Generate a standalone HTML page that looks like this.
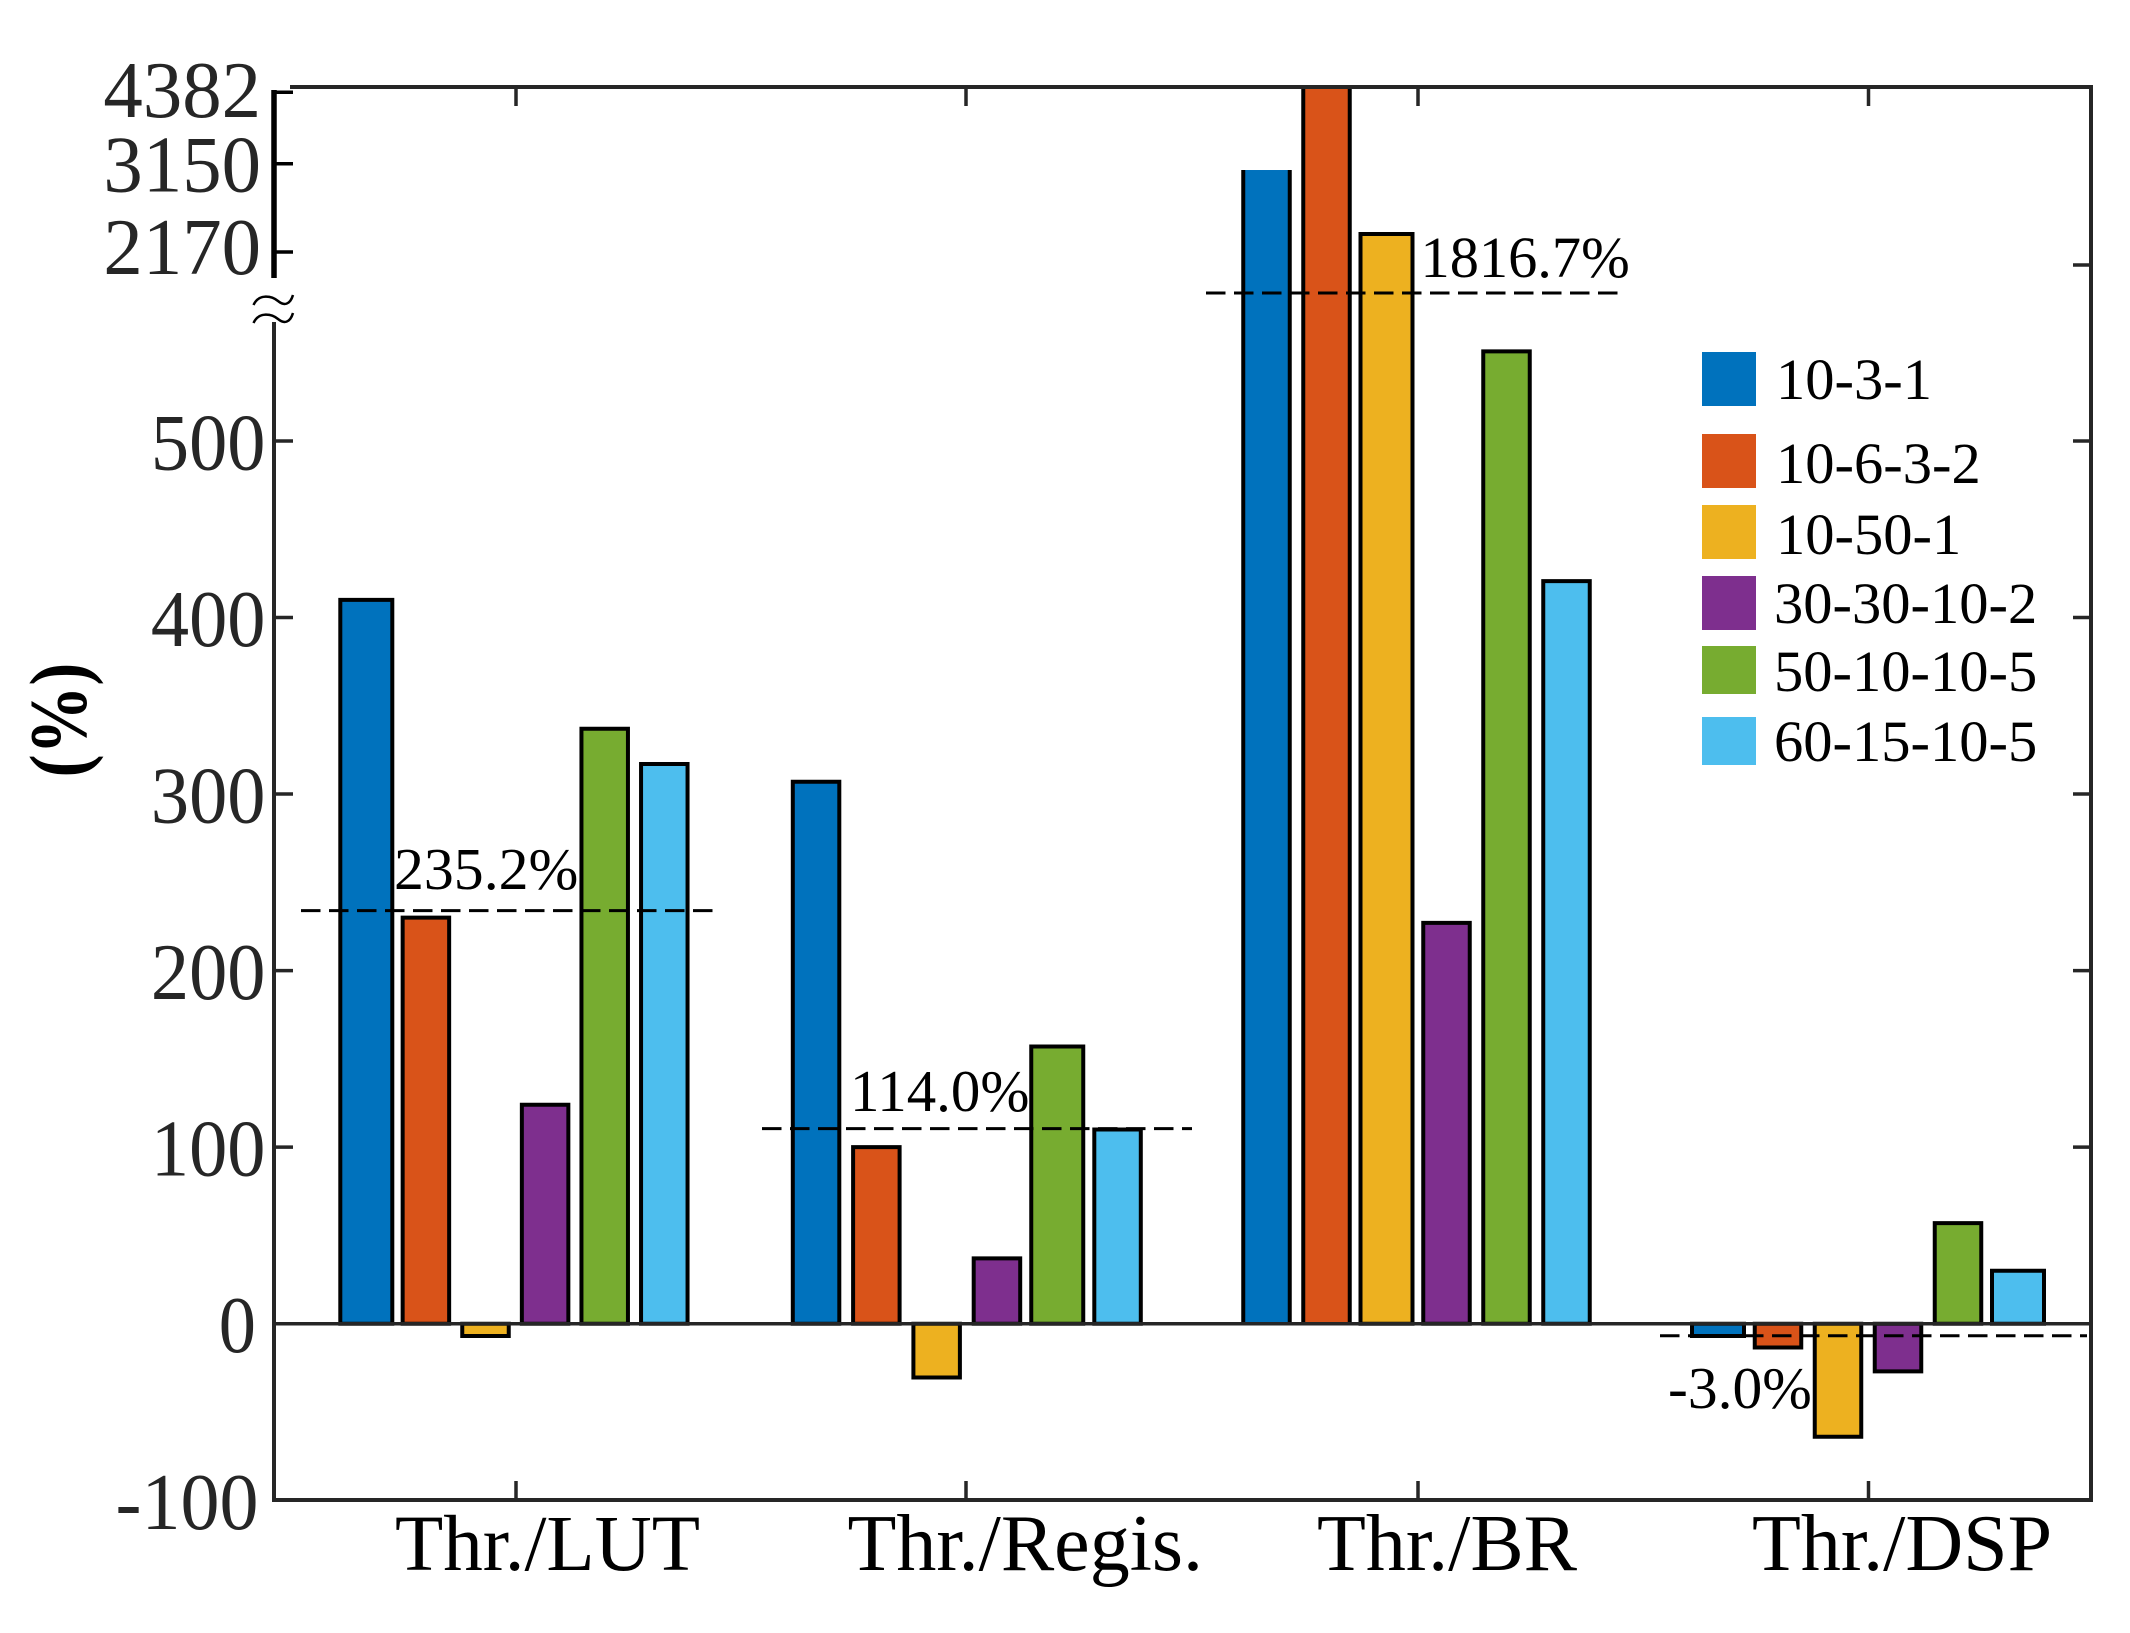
<!DOCTYPE html>
<html lang="en">
<head>
<meta charset="utf-8">
<title>Throughput ratio bar chart</title>
<style>
html,body{margin:0;padding:0;background:#fff;}
svg{display:block;}
text{font-family:"Liberation Serif",serif;}
</style>
</head>
<body>
<svg id="chart" xmlns="http://www.w3.org/2000/svg" width="2130" height="1633" viewBox="0 0 2130 1633">
  <rect x="0" y="0" width="2130" height="1633" fill="#fff"/>
  <defs><clipPath id="plot-clip"><rect x="274" y="87" width="1817" height="1413"/></clipPath></defs>
  <g id="bars" clip-path="url(#plot-clip)"></g>
  <g id="averages"></g>
  <g id="axes"></g>

  <g font-size="58.5" fill="#000">
    <rect x="1702" y="352" width="54" height="54" fill="#0072BD"/>
    <text x="1776" y="399">10-3-1</text>
    <rect x="1702" y="434" width="54" height="54" fill="#D95319"/>
    <text x="1776" y="483">10-6-3-2</text>
    <rect x="1702" y="505" width="54" height="54" fill="#EDB120"/>
    <text x="1776" y="554">10-50-1</text>
    <rect x="1702" y="576" width="54" height="54" fill="#7E2F8E"/>
    <text x="1774" y="623">30-30-10-2</text>
    <rect x="1702" y="646" width="54" height="48" fill="#77AC30"/>
    <text x="1774" y="691">50-10-10-5</text>
    <rect x="1702" y="717" width="54" height="48" fill="#4DBEEE"/>
    <text x="1774" y="761">60-15-10-5</text>
  </g>

  <text transform="translate(86,720) rotate(-90) scale(0.84,1)" text-anchor="middle" font-size="82" font-weight="bold" fill="#000">(%)</text>
</svg>

<script>
// ---- Data ----
const categories = ["Thr./LUT", "Thr./Regis.", "Thr./BR", "Thr./DSP"];
const seriesNames = ["10-3-1", "10-6-3-2", "10-50-1", "30-30-10-2", "50-10-10-5", "60-15-10-5"];
const values_10_3_1 = [410, 307, 3080, -7];
const values_10_6_3_2 = [230, 100, 4500, -13.5];
const values_10_50_1 = [-7, -30.5, 2370, -64];
const values_30_30_10_2 = [124, 37, 227, -27];
const values_50_10_10_5 = [337, 157, 1297, 57];
const values_60_15_10_5 = [317, 110, 420.6, 30];
const averageLineValues = [234, 110.5, 1816.7, -6.8];
const averageLabels = ["235.2%", "114.0%", "1816.7%", "-3.0%"];
const yTickLabels = ["-100", "0", "100", "200", "300", "400", "500", "2170", "3150", "4382"];
const yTickValues = [-100, 0, 100, 200, 300, 400, 500, 2170, 3150, 4382];
const rightTickValues = [100, 200, 300, 400, 500, 2058];

const seriesValues = [values_10_3_1, values_10_6_3_2, values_10_50_1, values_30_30_10_2, values_50_10_10_5, values_60_15_10_5];
const seriesColors = ["#0072BD", "#D95319", "#EDB120", "#7E2F8E", "#77AC30", "#4DBEEE"];

// ---- Axis functions ----
function yAxis(v) {
  // broken scale: linear up to 500, then compressed segments above the break
  if (v <= 500) return 1323.7 - v * 1.7655;
  if (v <= 1816.7) return 441 - (v - 500) * (148 / 1316.7);
  if (v <= 2170) return 293 - (v - 1816.7) * (41 / 353.3);
  if (v <= 3150) return 252 - (v - 2170) * (88.3 / 980);
  return 163.7 - (v - 3150) * (71.4 / 1232);
}
function tickX(g) {
  return g === 0 ? 516 : g === 1 ? 966 : g === 2 ? 1418 : 1868.5;
}
function groupCenter(g) {
  return g === 0 ? 515.3 : g === 1 ? 966.8 : g === 2 ? 1416.5 : 1868;
}
function groupPitch(g) {
  return g === 0 ? 59.6 : g === 1 ? 60.3 : 60;
}
function barX(g, s) {
  return groupCenter(g) + (s - 2.5) * groupPitch(g);
}
function barWidth(g, s) {
  const wide = (g === 0 && s === 0) || (g === 1 && s === 4) || (g === 2 && s === 2) || (g === 3 && (s === 0 || s === 5));
  return wide ? 52 : 46.5;
}

const NS = "http://www.w3.org/2000/svg";
function make(tag, parent) {
  const el = document.createElementNS(NS, tag);
  parent.appendChild(el);
  return el;
}
function line(parent, x1, y1, x2, y2, color, w) {
  const el = make("line", parent);
  el.setAttribute("x1", x1);
  el.setAttribute("y1", y1);
  el.setAttribute("x2", x2);
  el.setAttribute("y2", y2);
  el.setAttribute("stroke", color);
  el.setAttribute("stroke-width", w);
  return el;
}

// ---- Bars ----
const barsG = document.getElementById("bars");
seriesValues.forEach(function (vals, s) {
  vals.forEach(function (v, g) {
    const cx = barX(g, s);
    const w = barWidth(g, s);
    const y0 = yAxis(0);
    const y1 = yAxis(v);
    const top = Math.min(y0, y1);
    const h = Math.abs(y1 - y0);
    const rect = make("rect", barsG);
    
    
    rect.setAttribute("x", cx - w / 2);
    rect.setAttribute("y", top);
    rect.setAttribute("width", w);
    rect.setAttribute("height", h);
    rect.setAttribute("fill", seriesColors[s]);
    const outline = make("path", barsG);
    
    
    const xl = cx - w / 2;
    const xr = cx + w / 2;
    const openTop = v > 3000;
    outline.setAttribute("d", openTop
      ? "M" + xl + " " + y0 + "V" + y1 + "M" + xr + " " + y1 + "V" + y0
      : "M" + xl + " " + y0 + "V" + y1 + "H" + xr + "V" + y0 + "Z");
    outline.setAttribute("fill", "none");
    outline.setAttribute("stroke", "#000");
    outline.setAttribute("stroke-width", "4");
  });
});

// ---- Average lines and labels ----
const avgG = document.getElementById("averages");
function avgSpanStart(g) {
  return g === 0 ? 301 : g === 1 ? 762 : g === 2 ? 1206 : 1660;
}
function avgSpanEnd(g) {
  return g === 0 ? 719 : g === 1 ? 1192 : g === 2 ? 1625 : 2087;
}
function avgLabelX(g) {
  return g === 0 ? 394 : g === 1 ? 850 : g === 2 ? 1420.5 : 1668;
}
function avgLabelY(g) {
  return g === 0 ? 889 : g === 1 ? 1111 : g === 2 ? 277 : 1408;
}
function avgLabelSize(g) {
  return g === 0 ? 59.8 : g === 1 ? 58.9 : g === 2 ? 58.4 : 59.5;
}
averageLineValues.forEach(function (v, g) {
  const y = yAxis(v);
  const l = line(avgG, avgSpanStart(g), y, avgSpanEnd(g), y, "#000", 3);
  l.setAttribute("stroke-dasharray", "19.5 8.5");
  
  
  const t = make("text", avgG);
  t.textContent = averageLabels[g];
  t.setAttribute("x", avgLabelX(g));
  t.setAttribute("y", avgLabelY(g));
  t.setAttribute("font-size", avgLabelSize(g));
  t.setAttribute("fill", "#000");
  
  
});

// ---- Axes ----
const axG = document.getElementById("axes");
const AXIS = "#262626";
const L = 274, R = 2091, T = 87, B = 1500;

const frameTop = line(axG, 290, T, R, T, AXIS, 4);


const frameRight = line(axG, R, T - 2, R, B + 2, AXIS, 4);


const frameBottom = line(axG, L - 2, B, R, B, AXIS, 4);


const zeroLine = line(axG, L, yAxis(0), R, yAxis(0), AXIS, 3.5);


const leftLower = line(axG, L, 322, L, B, AXIS, 4);


const leftUpper = line(axG, L, 90, L, 278, "#000", 5.5);



const breakMark = make("path", axG);
breakMark.setAttribute("d", "M253.5 305C259 293 272 296 278 301S290 305 293 295M253.5 323C259 311 272 314 278 319S290 323 293 313");
breakMark.setAttribute("fill", "none");
breakMark.setAttribute("stroke", "#000");
breakMark.setAttribute("stroke-width", "2.5");



function labelOffset(v) {
  if (v === 4382) return 24.5;
  if (v === 3150) return 28;
  if (v === 2170) return 22;
  return 28.5;
}
function labelAnchorX(v) {
  if (v > 500) return 261;
  if (v === 0) return 256;
  if (v === -100) return 258.5;
  return 265.5;
}
function labelScale(v) {
  if (v > 500) return 0.985;
  if (v === 0) return 0.93;
  if (v === -100) return 0.975;
  return 0.955;
}
yTickValues.forEach(function (v, i) {
  const y = yAxis(v);
  if (v > -100 && v !== 0) {
    const tick = line(axG, L, y, 293, y, v > 500 ? "#000" : AXIS, 3.5);
    
    
  }
  const t = make("text", axG);
  t.textContent = yTickLabels[i];
  t.setAttribute("transform", "translate(" + labelAnchorX(v) + "," + (y + labelOffset(v)) + ") scale(" + labelScale(v) + ",1)");
  t.setAttribute("text-anchor", "end");
  t.setAttribute("font-size", "80");
  t.setAttribute("fill", AXIS);
  
  
});
rightTickValues.forEach(function (v) {
  const y = yAxis(v);
  const tick = line(axG, R, y, R - 18, y, AXIS, 3.5);
  
  
});

function catLabelX(g) {
  return g === 0 ? 395 : g === 1 ? 847.5 : g === 2 ? 1317 : 1752;
}
function catLabelSize(g) {
  return g === 0 ? 79 : 80;
}
categories.forEach(function (c, g) {
  const x = tickX(g);
  const tb = line(axG, x, B, x, B - 19, AXIS, 3.5);
  
  
  const tt = line(axG, x, T, x, T + 19, AXIS, 3.5);
  
  
  const t = make("text", axG);
  t.textContent = c;
  t.setAttribute("x", catLabelX(g));
  t.setAttribute("y", 1570);
  t.setAttribute("font-size", catLabelSize(g));
  t.setAttribute("fill", "#000");
  
  
});
</script>
</body>
</html>
